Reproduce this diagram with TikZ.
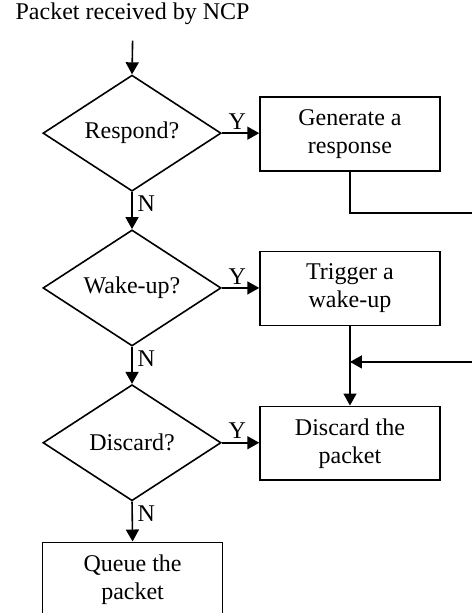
\documentclass[tikz,border=0pt]{standalone}
\usepackage{fontspec}
\setmainfont{Liberation Serif}
\usepackage{tikz}
\usetikzlibrary{arrows.meta,shapes.geometric,calc}

\begin{document}
\begin{tikzpicture}[line width=0.8pt,
    font=\fontsize{12}{14}\selectfont,
    decision/.style={diamond, draw, inner sep=0pt, shape aspect=1.53,
        minimum width=3.13cm, minimum height=2.04cm},
    action/.style={rectangle, draw, align=center, inner sep=0pt,
        minimum width=3.16cm, minimum height=1.30cm},
    arr/.style={-{Triangle[length=6pt,width=6.5pt]}},
    lbl/.style={inner sep=1pt}]
            \clip (0,0) rectangle (8.294,-10.772);
            \node (Title) at (2.33,-0.25) {Packet received by NCP};
            \node[decision] (Resp) at (2.32,-2.34) {Respond?};
            \node[decision] (Wake) at (2.32,-5.06) {Wake-up?};
            \node[decision] (Disc) at (2.32,-7.78) {Discard?};
            \node[action] (Gen) at ($(Resp)+(3.83,-0.01)$) {Generate a\\response};
            \node[action] (Trig) at ($(Wake)+(3.83,-0.01)$) {Trigger a\\wake-up};
            \node[action] (Drop) at ($(Disc)+(3.83,-0.01)$) {Discard the\\packet};
            \node[action] (Queue) at (2.33,-10.18) {Queue the\\packet};
            \coordinate (Out) at (8.5,-3.74);
            \coordinate (In) at (8.5,-6.36);
            \draw[arr] ([yshift=-4pt]Title.south) -- (Resp.north);
            \draw[arr] (Resp.east) -- (Resp.east -| Gen.west);
            \draw[arr] (Wake.east) -- (Wake.east -| Trig.west);
            \draw[arr] (Disc.east) -- (Disc.east -| Drop.west);
            \draw[arr] (Resp.south) -- (Wake.north);
            \draw[arr] (Wake.south) -- (Disc.north);
            \draw[arr] (Disc.south) -- (Queue.north);
            \draw (Gen.south) |- (Out);
            \draw[arr] (Trig.south) -- (Drop.north);
            \draw[arr] (In) -- (In -| Trig.south);
            \node[lbl, anchor=south west] at ($(Resp.east)+(0.07,0.02)$) {Y};
            \node[lbl, anchor=south west] at ($(Wake.east)+(0.07,0.02)$) {Y};
            \node[lbl, anchor=south west] at ($(Disc.east)+(0.07,0.02)$) {Y};
            \node[lbl, anchor=north west] at ($(Resp.south)+(0.05,-0.02)$) {N};
            \node[lbl, anchor=north west] at ($(Wake.south)+(0.05,-0.02)$) {N};
            \node[lbl, anchor=north west] at ($(Disc.south)+(0.05,-0.02)$) {N};
        \end{tikzpicture}
\end{document}
